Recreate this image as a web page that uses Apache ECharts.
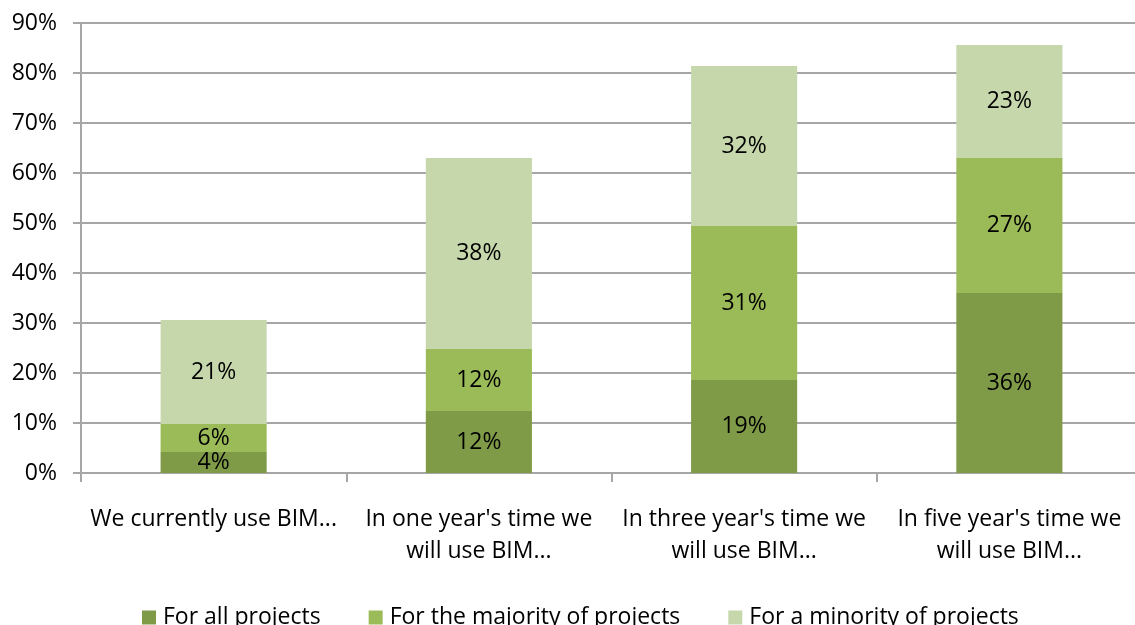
<!DOCTYPE html>
<html><head><meta charset="utf-8">
<script src="https://cdn.jsdelivr.net/npm/echarts@6/dist/echarts.min.js"></script>
<style>html,body{margin:0;padding:0;background:#fff;overflow:hidden}#c{width:1142px;height:625px}</style>
</head><body><div id="c"></div>
<script>
const categories = ["We currently use BIM...", "In one year's time we\nwill use BIM...", "In three year's time we\nwill use BIM...", "In five year's time we\nwill use BIM..."];
const seriesNames = ["For all projects", "For the majority of projects", "For a minority of projects"];
const allProjects = [4.2, 12.4, 18.6, 36.0];
const majorityProjects = [5.6, 12.4, 30.8, 27.0];
const minorityProjects = [20.8, 38.2, 32.0, 22.6];
const yTicks = { min: 0, max: 90, interval: 10 };
const colors = ["#7F9B48", "#9BBB59", "#C6D7AC"];
const font = "'Open Sans', 'Noto Sans', sans-serif";

const chart = echarts.init(document.getElementById('c'));
const mk = (name, data, color) => ({
  name, type: 'bar', stack: 'a', data, barWidth: '40%',
  itemStyle: { color },
  label: { show: true, position: 'inside', color: '#000', fontSize: 23, fontFamily: font,
    formatter: p => Math.round(p.value) + '%' }
});
chart.setOption({
  animation: false,
  grid: { left: 81, top: 23, bottom: 152, right: 0, containLabel: false },
  legend: {
    top: 601, left: 137, itemWidth: 14, itemHeight: 14, itemGap: 48,
    icon: 'rect',
    textStyle: { fontSize: 23, fontFamily: font, color: '#000', padding: [0, 0, 0, 2] },
    data: seriesNames
  },
  xAxis: {
    type: 'category', data: categories,
    axisLine: { lineStyle: { color: '#A6A6A6', width: 2 } },
    axisTick: { show: true, length: 9, lineStyle: { color: '#A6A6A6', width: 2 } },
    axisLabel: { fontSize: 23, fontFamily: font, color: '#000', margin: 30, lineHeight: 32, interval: 0 }
  },
  yAxis: {
    type: 'value', min: yTicks.min, max: yTicks.max, interval: yTicks.interval,
    axisLine: { show: true, lineStyle: { color: '#A6A6A6', width: 2 } },
    axisTick: { show: true, length: 8, lineStyle: { color: '#A6A6A6', width: 2 } },
    splitLine: { lineStyle: { color: '#A6A6A6', width: 2 } },
    axisLabel: { fontSize: 23, fontFamily: font, color: '#000', margin: 24, formatter: v => v + '%' }
  },
  series: [
    mk(seriesNames[0], allProjects, colors[0]),
    mk(seriesNames[1], majorityProjects, colors[1]),
    mk(seriesNames[2], minorityProjects, colors[2])
  ]
});
</script></body></html>
